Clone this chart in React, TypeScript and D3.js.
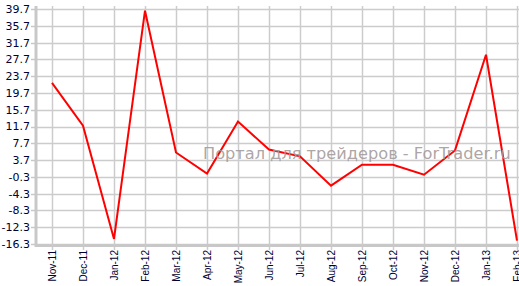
import React from "react";
import * as d3 from "d3";

const categories = ["Nov-11","Dec-11","Jan-12","Feb-12","Mar-12","Apr-12","May-12","Jun-12","Jul-12","Aug-12","Sep-12","Oct-12","Nov-12","Dec-12","Jan-13","Feb-13"];
const values = [22.1, 11.9, -15.1, 39.3, 5.5, 0.5, 12.9, 6.2, 4.6, -2.4, 2.6, 2.6, 0.2, 6.0, 28.8, -15.5];
const yTicks = [39.7, 35.7, 31.7, 27.7, 23.7, 19.7, 15.7, 11.7, 7.7, 3.7, -0.3, -4.3, -8.3, -12.3, -16.3];

const W = 519, H = 286;

export default function App() {
  const x = d3.scaleBand<string>().domain(categories).range([36.5, 532.5]);
  const cx = (c: string) => (x(c) as number) + x.bandwidth() / 2;
  const y = d3.scaleLinear().domain([-16.3, 39.7]).range([244, 9]);
  const line = d3.line<number>().x((_, i) => cx(categories[i])).y(d => y(d));
  return (
    <svg width={W} height={H} style={{ position: "absolute", left: 0, top: 0, background: "#fff" }}>
      <defs>
        <clipPath id="plot"><rect x={36} y={0} width={W - 36} height={245} /></clipPath>
      </defs>
      {yTicks.map(t => (
        <line key={"h" + t} x1={36} x2={W} y1={Math.round(y(t)) + 0.5} y2={Math.round(y(t)) + 0.5} stroke="#cccccc" strokeWidth={1.5} />
      ))}
      {categories.map(c => (
        <line key={"v" + c} x1={Math.round(cx(c)) + 0.5} x2={Math.round(cx(c)) + 0.5} y1={6} y2={250} stroke="#cccccc" strokeWidth={1.5} />
      ))}
      <path d={line(values) || ""} fill="none" stroke="#ff0000" strokeWidth={2} strokeLinejoin="miter" clipPath="url(#plot)" />
      <line x1={36} x2={W} y1={245.5} y2={245.5} stroke="#c8c8c8" strokeWidth={3} />
      <line x1={36} x2={36} y1={6} y2={247} stroke="#c8c8c8" strokeWidth={3} />
      {yTicks.map(t => (
        <g key={"yl" + t}>
          <line x1={31} x2={35} y1={Math.round(y(t)) + 0.5} y2={Math.round(y(t)) + 0.5} stroke="#c8c8c8" strokeWidth={1.5} />
          <text x={30} y={y(t)} dy="0.36em" textAnchor="end" fontFamily="DejaVu Sans, Verdana, sans-serif" fontSize={11} fill="#000033">{t.toFixed(1)}</text>
        </g>
      ))}
      {categories.map(c => (
        <text key={"xl" + c} transform={`translate(${cx(c) + 3.5},250) rotate(-90)`} textAnchor="end" fontFamily="Liberation Sans, Arial, sans-serif" fontSize={10} fill="#000033">{c}</text>
      ))}
      <text x={203} y={159} fontFamily="DejaVu Sans, Verdana, sans-serif" fontSize={16.2} fill="#a39a9a" fillOpacity={0.9}>Портал для трейдеров - ForTrader.ru</text>
    </svg>
  );
}
